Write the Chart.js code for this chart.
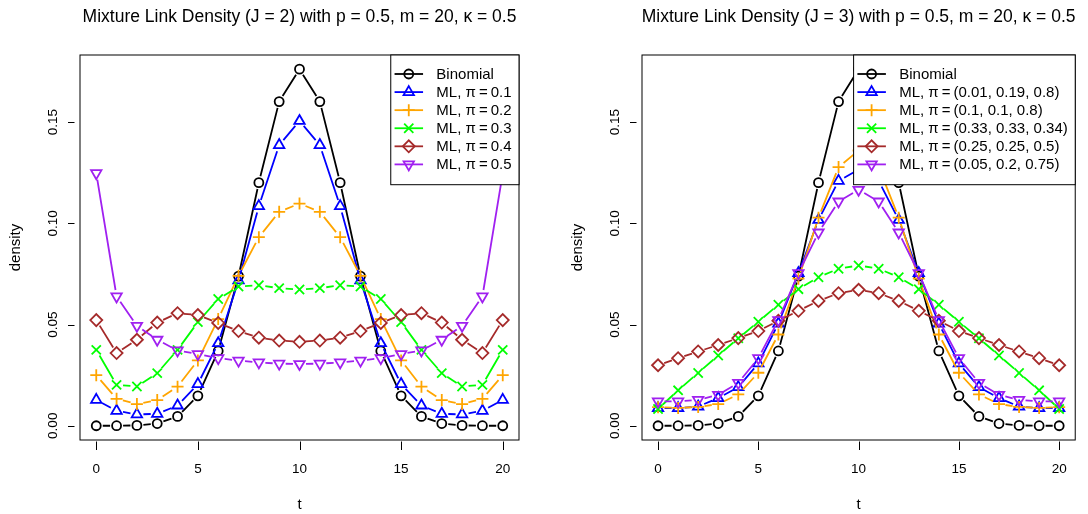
<!DOCTYPE html>
<html>
<head>
<meta charset="utf-8">
<script src="https://cdn.jsdelivr.net/npm/chart.js@4.4.0/dist/chart.umd.min.js"></script>
<style>
body { margin: 0; background: white; }
#wrap { display: flex; width: 1088px; height: 514px; }
canvas { display: block; }
</style>
</head>
<body>
<div id="wrap">
<canvas id="left" width="544" height="514"></canvas>
<canvas id="right" width="544" height="514"></canvas>
</div>
<script>
const tValues = [0, 1, 2, 3, 4, 5, 6, 7, 8, 9, 10, 11, 12, 13, 14, 15, 16, 17, 18, 19, 20]
const xTicks = [0, 5, 10, 15, 20]
const yTicks = [0, 0.05, 0.10, 0.15]
const yTickLabels = ['0.00', '0.05', '0.10', '0.15']

const binomial = [0.000001, 0.000019, 0.000181, 0.001087, 0.004621, 0.014786, 0.036964, 0.073929, 0.120134, 0.160179, 0.176197,
  0.160179, 0.120134, 0.073929, 0.036964, 0.014786, 0.004621, 0.001087, 0.000181, 0.000019, 0.000001]

// J = 2
const ml2_01 = [0.0128, 0.0074, 0.0056, 0.0059, 0.0100, 0.0206, 0.0408, 0.0718, 0.1085, 0.1387, 0.1506,
  0.1387, 0.1085, 0.0718, 0.0408, 0.0206, 0.0100, 0.0059, 0.0056, 0.0074, 0.0128]
const ml2_02 = [0.0250, 0.0133, 0.0107, 0.0127, 0.0193, 0.0323, 0.0527, 0.0741, 0.0932, 0.1057, 0.1098,
  0.1057, 0.0932, 0.0741, 0.0527, 0.0323, 0.0193, 0.0127, 0.0107, 0.0133, 0.0250]
const ml2_03 = [0.0375, 0.0202, 0.0194, 0.0260, 0.0375, 0.0512, 0.0626, 0.0688, 0.0694, 0.0680, 0.0673,
  0.0680, 0.0694, 0.0688, 0.0626, 0.0512, 0.0375, 0.0260, 0.0194, 0.0202, 0.0375]
const ml2_04 = [0.0522, 0.0359, 0.0425, 0.0510, 0.0556, 0.0547, 0.0508, 0.0468, 0.0435, 0.0421, 0.0415,
  0.0421, 0.0435, 0.0468, 0.0508, 0.0547, 0.0556, 0.0510, 0.0425, 0.0359, 0.0522]
const ml2_05 = [0.1248, 0.0639, 0.0494, 0.0425, 0.0372, 0.0354, 0.0334, 0.0322, 0.0313, 0.0307, 0.0305,
  0.0307, 0.0313, 0.0322, 0.0334, 0.0354, 0.0372, 0.0425, 0.0494, 0.0639, 0.1248]

// J = 3
const ml3_a = [0.0087, 0.0087, 0.0095, 0.0137, 0.0191, 0.0308, 0.0505, 0.0754, 0.1017, 0.1210, 0.1266,
  0.1210, 0.1017, 0.0754, 0.0505, 0.0308, 0.0191, 0.0137, 0.0095, 0.0087, 0.0087]
const ml3_b = [0.0092, 0.0088, 0.0093, 0.0107, 0.0155, 0.0262, 0.0451, 0.0727, 0.1028, 0.1278, 0.1360,
  0.1278, 0.1028, 0.0727, 0.0451, 0.0262, 0.0155, 0.0107, 0.0093, 0.0088, 0.0092]
const ml3_c = [0.0083, 0.0175, 0.0261, 0.0347, 0.0432, 0.0514, 0.0598, 0.0675, 0.0734, 0.0776, 0.0792,
  0.0776, 0.0734, 0.0675, 0.0598, 0.0514, 0.0432, 0.0347, 0.0261, 0.0175, 0.0083]
const ml3_d = [0.0299, 0.0334, 0.0367, 0.0399, 0.0433, 0.0468, 0.0519, 0.0568, 0.0617, 0.0655, 0.0672,
  0.0655, 0.0617, 0.0568, 0.0519, 0.0468, 0.0433, 0.0399, 0.0367, 0.0334, 0.0299]
const ml3_e = [0.0120, 0.0120, 0.0128, 0.0153, 0.0212, 0.0334, 0.0522, 0.0754, 0.0955, 0.1108, 0.1166,
  0.1108, 0.0955, 0.0754, 0.0522, 0.0334, 0.0212, 0.0153, 0.0128, 0.0120, 0.0120]

const labels2 = ['Binomial', 'ML, π\u2009=\u20090.1', 'ML, π\u2009=\u20090.2', 'ML, π\u2009=\u20090.3', 'ML, π\u2009=\u20090.4', 'ML, π\u2009=\u20090.5']
const labels3 = ['Binomial', 'ML, π\u2009=\u2009(0.01, 0.19, 0.8)', 'ML, π\u2009=\u2009(0.1, 0.1, 0.8)', 'ML, π\u2009=\u2009(0.33, 0.33, 0.34)',
  'ML, π\u2009=\u2009(0.25, 0.25, 0.5)', 'ML, π\u2009=\u2009(0.05, 0.2, 0.75)']

const colors = ['#000000', '#0000FF', '#FFA500', '#00FF00', '#A52A2A', '#A020F0']
const markers = ['circle', 'triangle', 'cross', 'crossRot', 'rectRot', 'triangle']
const rotations = [0, 0, 0, 0, 0, 180]
const radii = [4.5, 6, 6, 6.5, 6, 6]

const FONT = "'Liberation Sans', Arial, Helvetica, sans-serif"
const GAP = 6.5


// lines of type "b": segments stop short of each point
const rPlot = {
  id: 'rPlot',
  beforeDatasetDraw(chart, args) {
    let ctx = chart.ctx
    let pts = args.meta.data
    let a = chart.chartArea
    ctx.save()
    ctx.beginPath()
    ctx.rect(a.left, a.top, a.right - a.left, a.bottom - a.top)
    ctx.clip()
    ctx.strokeStyle = colors[args.index]
    ctx.lineWidth = 1.8
    ctx.beginPath()
    for (let i = 0; i < pts.length - 1; i++) {
      let dx = pts[i + 1].x - pts[i].x
      let dy = pts[i + 1].y - pts[i].y
      let len = Math.sqrt(dx * dx + dy * dy)
      if (len <= 2 * GAP) continue
      let ux = dx / len, uy = dy / len
      ctx.moveTo(pts[i].x + ux * GAP, pts[i].y + uy * GAP)
      ctx.lineTo(pts[i + 1].x - ux * GAP, pts[i + 1].y - uy * GAP)
    }
    ctx.stroke()
    ctx.restore()
  },
  afterDraw(chart, args, opts) {
    let ctx = chart.ctx
    let a = chart.chartArea
    let y = chart.scales.y
    let x = chart.scales.x
    ctx.save()
    ctx.strokeStyle = '#000'
    ctx.fillStyle = '#000'
    ctx.lineWidth = 1

    // box
    ctx.strokeRect(a.left, a.top, a.right - a.left, a.bottom - a.top)

    // tick marks
    ctx.beginPath()
    yTicks.forEach(v => {
      let py = Math.round(y.getPixelForValue(v)) + 0.5
      ctx.moveTo(a.left - 12, py)
      ctx.lineTo(a.left - 5.5, py)
    })
    xTicks.forEach(v => {
      let px = Math.round(x.getPixelForValue(v)) + 0.5
      ctx.moveTo(px, a.bottom + 1.5)
      ctx.lineTo(px, a.bottom + 10)
    })
    ctx.stroke()

    // y tick labels, rotated like R
    ctx.font = '13.5px ' + FONT
    ctx.textAlign = 'center'
    ctx.textBaseline = 'middle'
    yTicks.forEach((v, i) => {
      ctx.save()
      ctx.translate(a.left - 26.4, y.getPixelForValue(v))
      ctx.rotate(-Math.PI / 2)
      ctx.fillText(yTickLabels[i], 0, 0)
      ctx.restore()
    })

    // axis titles
    ctx.font = '15px ' + FONT
    ctx.fillText('t', (a.left + a.right) / 2, 505)
    ctx.save()
    ctx.translate(a.left - 64, (a.top + a.bottom) / 2)
    ctx.rotate(-Math.PI / 2)
    ctx.fillText('density', 0, 0)
    ctx.restore()

    // main title
    ctx.font = '17.5px ' + FONT
    ctx.textBaseline = 'alphabetic'
    ctx.fillText(opts.title, (a.left + a.right) / 2, 22)

    // legend
    ctx.font = '15px ' + FONT
    let maxW = 0
    opts.labels.forEach(l => { maxW = Math.max(maxW, ctx.measureText(l).width) })
    let boxW = 45.6 + maxW + 7.5
    let bx = a.right - boxW
    let by = a.top
    ctx.fillStyle = '#fff'
    ctx.fillRect(bx, by, boxW, 129.7)
    ctx.strokeStyle = '#000'
    ctx.strokeRect(bx, by, boxW, 129.7)
    opts.labels.forEach((l, i) => {
      let ry = by + 19 + i * 18.08
      ctx.strokeStyle = colors[i]
      ctx.lineWidth = 1.8
      ctx.beginPath()
      ctx.moveTo(bx + 3.8, ry)
      ctx.lineTo(bx + 32.3, ry)
      ctx.stroke()
      ctx.fillStyle = 'rgba(0,0,0,0)'
      Chart.helpers.drawPoint(ctx, {
        pointStyle: markers[i], radius: radii[i], rotation: rotations[i], borderWidth: 1.8
      }, bx + 18, ry)
      ctx.fillStyle = '#000'
      ctx.textAlign = 'left'
      ctx.textBaseline = 'middle'
      ctx.fillText(l, bx + 45.6, ry + 0.5)
    })
    ctx.restore()
  }
}


function makeChart(id, series, labels, title, leftW, rightPad) {
  let datasets = series.map((s, i) => ({
    label: labels[i],
    data: s,
    showLine: false,
    order: -i,
    pointStyle: markers[i],
    pointRadius: radii[i],
    pointRotation: rotations[i],
    pointBorderColor: colors[i],
    pointBackgroundColor: 'rgba(0,0,0,0)',
    pointBorderWidth: 1.8,
    borderColor: colors[i]
  }))
  return new Chart(document.getElementById(id), {
    type: 'line',
    data: { labels: tValues, datasets: datasets },
    plugins: [rPlot],
    options: {
      responsive: false,
      animation: false,
      devicePixelRatio: 1,
      layout: { padding: { left: 0, right: rightPad, top: 55, bottom: 0 } },
      plugins: {
        legend: { display: false },
        tooltip: { enabled: false },
        title: { display: false },
        rPlot: { title: title, labels: labels }
      },
      scales: {
        x: {
          type: 'linear',
          min: -0.8,
          max: 20.8,
          afterBuildTicks: s => { s.ticks = xTicks.map(v => ({ value: v })) },
          afterFit: s => { s.height = 74 },
          grid: { display: false, drawTicks: false },
          border: { display: false },
          ticks: {
            color: '#000',
            padding: 21,
            maxRotation: 0,
            font: { size: 13.5, family: FONT }
          }
        },
        y: {
          type: 'linear',
          min: -0.00704,
          max: 0.1832,
          afterBuildTicks: s => { s.ticks = yTicks.map(v => ({ value: v })) },
          afterFit: s => { s.width = leftW },
          grid: { display: false, drawTicks: false },
          border: { display: false },
          ticks: { display: false }
        }
      }
    }
  })
}

let chartLeft = makeChart('left', [binomial, ml2_01, ml2_02, ml2_03, ml2_04, ml2_05], labels2,
  'Mixture Link Density (J = 2) with p = 0.5, m = 20, κ = 0.5', 80, 25)
let chartRight = makeChart('right', [binomial, ml3_a, ml3_b, ml3_c, ml3_d, ml3_e], labels3,
  'Mixture Link Density (J = 3) with p = 0.5, m = 20, κ = 0.5', 98, 6)
</script>
</body>
</html>
